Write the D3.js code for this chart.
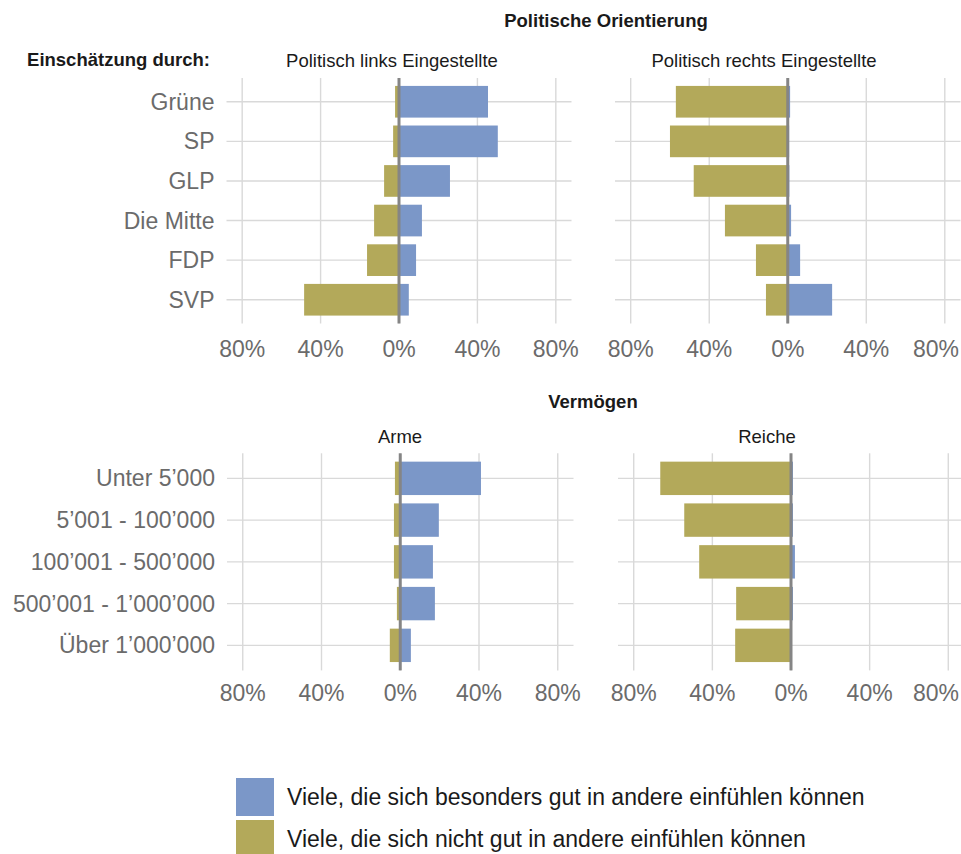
<!DOCTYPE html>
<html>
<head>
<meta charset="utf-8">
<script src="https://cdn.jsdelivr.net/npm/d3@7"></script>
<style>
  body { margin: 0; background: #fff; }
  svg { font-family: "Liberation Sans", Arial, Helvetica, sans-serif; }
  .grid line { stroke: #d9d9d9; stroke-width: 1.4; }
  .tick-label { fill: #6b6b6b; font-size: 23px; }
  .cat-label { fill: #6b6b6b; font-size: 23px; }
  .panel-title { fill: #1a1a1a; font-size: 18.5px; }
  .heading { fill: #1a1a1a; font-size: 18.5px; font-weight: bold; }
  .legend-text { fill: #1a1a1a; font-size: 23px; }
</style>
</head>
<body>
<div id="chart"></div>
<script>
// data (share in %)
const parties = ["Grüne", "SP", "GLP", "Die Mitte", "FDP", "SVP"];
const linksGut = [45.4, 50.4, 26, 11.7, 8.7, 5];
const linksNicht = [2, 3, 7.6, 12.7, 16.3, 48.4];
const rechtsGut = [1.2, 0.7, 0.8, 1.7, 6.3, 22.6];
const rechtsNicht = [57, 60, 47.9, 32, 16.2, 11.1];

const vermoegen = ["Unter 5’000", "5’001 - 100’000", "100’001 - 500’000", "500’001 - 1’000’000", "Über 1’000’000"];
const armeGut = [41, 19.6, 16.6, 17.6, 5.4];
const armeNicht = [2.7, 3.2, 3.2, 1.7, 5.3];
const reicheGut = [1, 1, 2, 1, 0.5];
const reicheNicht = [66.5, 54.3, 46.7, 27.9, 28.4];

const tickValues = [-80, -40, 0, 40, 80];
const legendLabels = [
  "Viele, die sich besonders gut in andere einfühlen können",
  "Viele, die sich nicht gut in andere einfühlen können"
];
const colors = ["#7b97c8", "#b3a95a"];

const width = 961, height = 854;

const svg = d3.select("#chart")
  .append("svg")
    .attr("width", width)
    .attr("height", height);

function drawPanel(opts) {
  const {x0, x1, y0, y1, cats, gut, nicht, title, titleX, titleY, showCats, tickY} = opts;

  const x = d3.scaleLinear().domain([-88, 88]).range([x0, x1]);
  const y = d3.scaleBand().domain(cats).range([y0, y1])
    .paddingInner(0.2).paddingOuter(0.2);

  const g = svg.append("g");

  // vertical grid
  g.append("g")
    .attr("class", "grid")
    .selectAll("line")
    .data(tickValues)
    .join("line")
      .attr("x1", d => x(d)).attr("x2", d => x(d))
      .attr("y1", y0).attr("y2", y1);

  // horizontal grid
  g.append("g")
    .attr("class", "grid")
    .selectAll("line")
    .data(cats)
    .join("line")
      .attr("x1", x0).attr("x2", x1)
      .attr("y1", d => y(d) + y.bandwidth() / 2)
      .attr("y2", d => y(d) + y.bandwidth() / 2);

  const rows = cats.map((c, i) => ({cat: c, gut: gut[i], nicht: nicht[i]}));

  g.append("g").selectAll("rect")
    .data(rows)
    .join("rect")
      .attr("x", d => x(-d.nicht))
      .attr("width", d => x(0) - x(-d.nicht))
      .attr("y", d => y(d.cat))
      .attr("height", y.bandwidth())
      .attr("fill", colors[1]);

  g.append("g").selectAll("rect")
    .data(rows)
    .join("rect")
      .attr("x", x(0))
      .attr("width", d => x(d.gut) - x(0))
      .attr("y", d => y(d.cat))
      .attr("height", y.bandwidth())
      .attr("fill", colors[0]);

  // zero line
  g.append("line")
    .attr("x1", x(0)).attr("x2", x(0))
    .attr("y1", y0).attr("y2", y1)
    .attr("stroke", "#858585")
    .attr("stroke-width", 3);

  // x tick labels (kept inside the page on the right)
  g.append("g").selectAll("text")
    .data(tickValues)
    .join("text")
      .attr("class", "tick-label")
      .attr("x", d => x(d))
      .attr("y", tickY)
      .attr("text-anchor", "middle")
      .text(d => Math.abs(d) + "%")
      .each(function(d) {
        const w = this.getComputedTextLength();
        if (x(d) + w / 2 > width - 2) d3.select(this).attr("x", width - 2 - w / 2);
      });

  if (showCats) {
    g.append("g").selectAll("text")
      .data(cats)
      .join("text")
        .attr("class", "cat-label")
        .attr("x", x0 - 12)
        .attr("y", d => y(d) + y.bandwidth() / 2)
        .attr("dy", "0.35em")
        .attr("text-anchor", "end")
        .text(d => d);
  }

  svg.append("text")
    .attr("class", "panel-title")
    .attr("x", titleX)
    .attr("y", titleY)
    .attr("text-anchor", "middle")
    .text(title);
}

// headings
svg.append("text")
  .attr("class", "heading")
  .attr("x", 606).attr("y", 27)
  .attr("text-anchor", "middle")
  .text("Politische Orientierung");

svg.append("text")
  .attr("class", "heading")
  .attr("x", 210).attr("y", 66)
  .attr("text-anchor", "end")
  .text("Einschätzung durch:");

svg.append("text")
  .attr("class", "heading")
  .attr("x", 593).attr("y", 408)
  .attr("text-anchor", "middle")
  .text("Vermögen");

drawPanel({x0: 226.5, x1: 571.5, y0: 78, y1: 323.5, cats: parties,
  gut: linksGut, nicht: linksNicht, title: "Politisch links Eingestellte",
  titleX: 392, titleY: 67, showCats: true, tickY: 357});

drawPanel({x0: 615, x1: 960.5, y0: 78, y1: 323.5, cats: parties,
  gut: rechtsGut, nicht: rechtsNicht, title: "Politisch rechts Eingestellte",
  titleX: 764, titleY: 67, showCats: false, tickY: 357});

drawPanel({x0: 227, x1: 573.5, y0: 453.3, y1: 670.4, cats: vermoegen,
  gut: armeGut, nicht: armeNicht, title: "Arme",
  titleX: 400, titleY: 443, showCats: true, tickY: 701});

drawPanel({x0: 618, x1: 964, y0: 453.3, y1: 670.4, cats: vermoegen,
  gut: reicheGut, nicht: reicheNicht, title: "Reiche",
  titleX: 767, titleY: 443, showCats: false, tickY: 701});

// legend
const legend = svg.append("g");
legendLabels.forEach((label, i) => {
  legend.append("rect")
    .attr("x", 236).attr("y", 778 + i * 42)
    .attr("width", 38).attr("height", 38)
    .attr("fill", colors[i]);
  legend.append("text")
    .attr("class", "legend-text")
    .attr("x", 287).attr("y", 797 + i * 42)
    .attr("dy", "0.35em")
    .text(label);
});
</script>
</body>
</html>
